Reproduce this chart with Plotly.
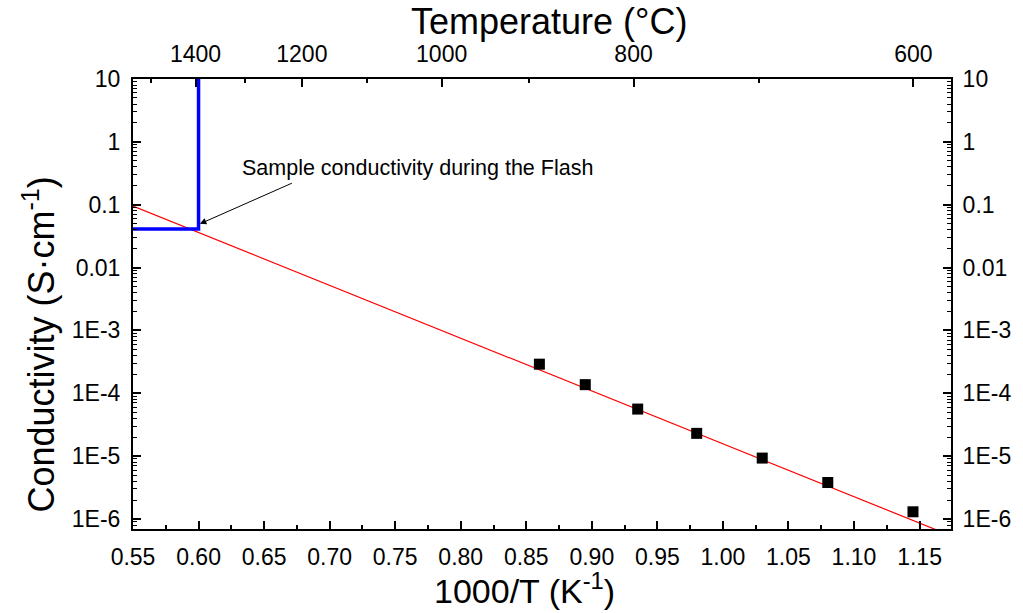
import plotly.graph_objects as go

# ---- data ----
inv_T = [0.86, 0.895, 0.935, 0.98, 1.03, 1.08, 1.145]
sigma = [2.9e-4, 1.37e-4, 5.6e-5, 2.3e-5, 9.3e-6, 3.8e-6, 1.3e-6]

fit_x = [0.55, 1.174]
fit_y = [0.095, 5.4e-7]

flash_x = [0.55, 0.60, 0.60]
flash_y = [0.041, 0.041, 10.0]

x_ticks = [0.55, 0.60, 0.65, 0.70, 0.75, 0.80, 0.85, 0.90, 0.95, 1.00, 1.05, 1.10, 1.15]
y_tickvals = [10, 1, 0.1, 0.01, 1e-3, 1e-4, 1e-5, 1e-6]
y_ticktext = ["10", "1", "0.1", "0.01", "1E-3", "1E-4", "1E-5", "1E-6"]
temp_major = [1400, 1200, 1000, 800, 600]
temp_minor = [1500, 1300, 1100, 900, 700]

X_RANGE = [0.55, 1.174]
Y_RANGE = [-6.16, 1.0]

FONT = "Liberation Sans, Arial, sans-serif"

def kelvin_pos(t):
    return 1000.0 / (t + 273.15)

y_minor = []
for e in range(-7, 1):
    for m in range(2, 10):
        y_minor.append(m * 10.0 ** e)

fig = go.Figure()

fig.add_trace(go.Scatter(x=fit_x, y=fit_y, mode="lines",
                         line=dict(color="#FF0000", width=1.2),
                         showlegend=False, hoverinfo="skip"))
fig.add_trace(go.Scatter(x=flash_x, y=flash_y, mode="lines",
                         line=dict(color="#0000FF", width=3.5),
                         showlegend=False))
fig.add_trace(go.Scatter(x=inv_T, y=sigma, mode="markers",
                         marker=dict(symbol="square", size=11, color="black"),
                         showlegend=False))
# invisible trace to activate the top/right axes
fig.add_trace(go.Scatter(x=[inv_T[0]], y=[sigma[0]], mode="markers",
                         marker=dict(opacity=0), xaxis="x2", yaxis="y2",
                         showlegend=False, hoverinfo="skip"))

tickfont = dict(family=FONT, size=23, color="black")

fig.update_layout(
    width=1023, height=613,
    margin=dict(l=133, r=65, t=79, b=84),
    paper_bgcolor="white", plot_bgcolor="white",
    font=dict(family=FONT, color="black"),
    xaxis=dict(range=X_RANGE, tickvals=x_ticks,
               ticktext=[f"{v:.2f}" for v in x_ticks],
               ticks="inside", ticklen=8, tickwidth=1.5, tickcolor="black",
               showline=True, linewidth=2, linecolor="black",
               showgrid=False, zeroline=False, tickfont=tickfont,
               ticklabelstandoff=6,
               minor=dict(tickvals=[round(v + 0.025, 3) for v in x_ticks],
                          ticks="inside", ticklen=4, tickwidth=1.5,
                          tickcolor="black", showgrid=False)),
    yaxis=dict(type="log", range=Y_RANGE, tickvals=y_tickvals,
               ticktext=y_ticktext,
               ticks="inside", ticklen=8, tickwidth=1.5, tickcolor="black",
               showline=True, linewidth=2, linecolor="black",
               showgrid=False, zeroline=False, tickfont=tickfont,
               ticklabelstandoff=6,
               minor=dict(tickvals=y_minor, ticks="inside", ticklen=4,
                          tickwidth=1.2, tickcolor="black", showgrid=False)),
    xaxis2=dict(overlaying="x", side="top", anchor="y", range=X_RANGE,
                tickvals=[kelvin_pos(t) for t in temp_major],
                ticktext=[str(t) for t in temp_major],
                ticks="inside", ticklen=8, tickwidth=1.5, tickcolor="black",
                showline=True, linewidth=2, linecolor="black",
                showgrid=False, zeroline=False, tickfont=tickfont,
                ticklabelstandoff=6,
                minor=dict(tickvals=[kelvin_pos(t) for t in temp_minor],
                           ticks="inside", ticklen=4, tickwidth=1.5,
                           tickcolor="black", showgrid=False)),
    yaxis2=dict(overlaying="y", side="right", anchor="x", type="log",
                range=Y_RANGE, tickvals=y_tickvals, ticktext=y_ticktext,
                ticks="inside", ticklen=8, tickwidth=1.5, tickcolor="black",
                showline=True, linewidth=2, linecolor="black",
                showgrid=False, zeroline=False, tickfont=tickfont,
                ticklabelstandoff=5,
                minor=dict(tickvals=y_minor, ticks="inside", ticklen=4,
                           tickwidth=1.2, tickcolor="black", showgrid=False)),
)

title_font = dict(family=FONT, size=36, color="black")
fig.add_annotation(text="Temperature (°C)", xref="paper", yref="paper",
                   x=0.508, y=1.127, showarrow=False, font=title_font,
                   xanchor="center", yanchor="middle")
fig.add_annotation(text="1000/T (K<sup>-1</sup>)", xref="paper", yref="paper",
                   x=0.478, y=-0.133, showarrow=False,
                   font=dict(family=FONT, size=34, color="black"),
                   xanchor="center", yanchor="middle")
fig.add_annotation(text="Conductivity (S·cm<sup>-1</sup>)", xref="paper", yref="paper",
                   x=-0.116, y=0.41, showarrow=False, font=title_font,
                   textangle=-90, xanchor="center", yanchor="middle")

fig.add_annotation(text="Sample conductivity during the Flash",
                   x=0.767, y=-0.415, xref="x", yref="y", showarrow=False,
                   font=dict(family=FONT, size=21.5, color="black"),
                   xanchor="center", yanchor="middle")
fig.add_annotation(text=" ", x=0.601, y=-1.305, xref="x", yref="y",
                   showarrow=True, ax=95, ay=-42, arrowhead=2, arrowsize=1.3,
                   arrowwidth=1, arrowcolor="black")

fig.write_html("out.html")
